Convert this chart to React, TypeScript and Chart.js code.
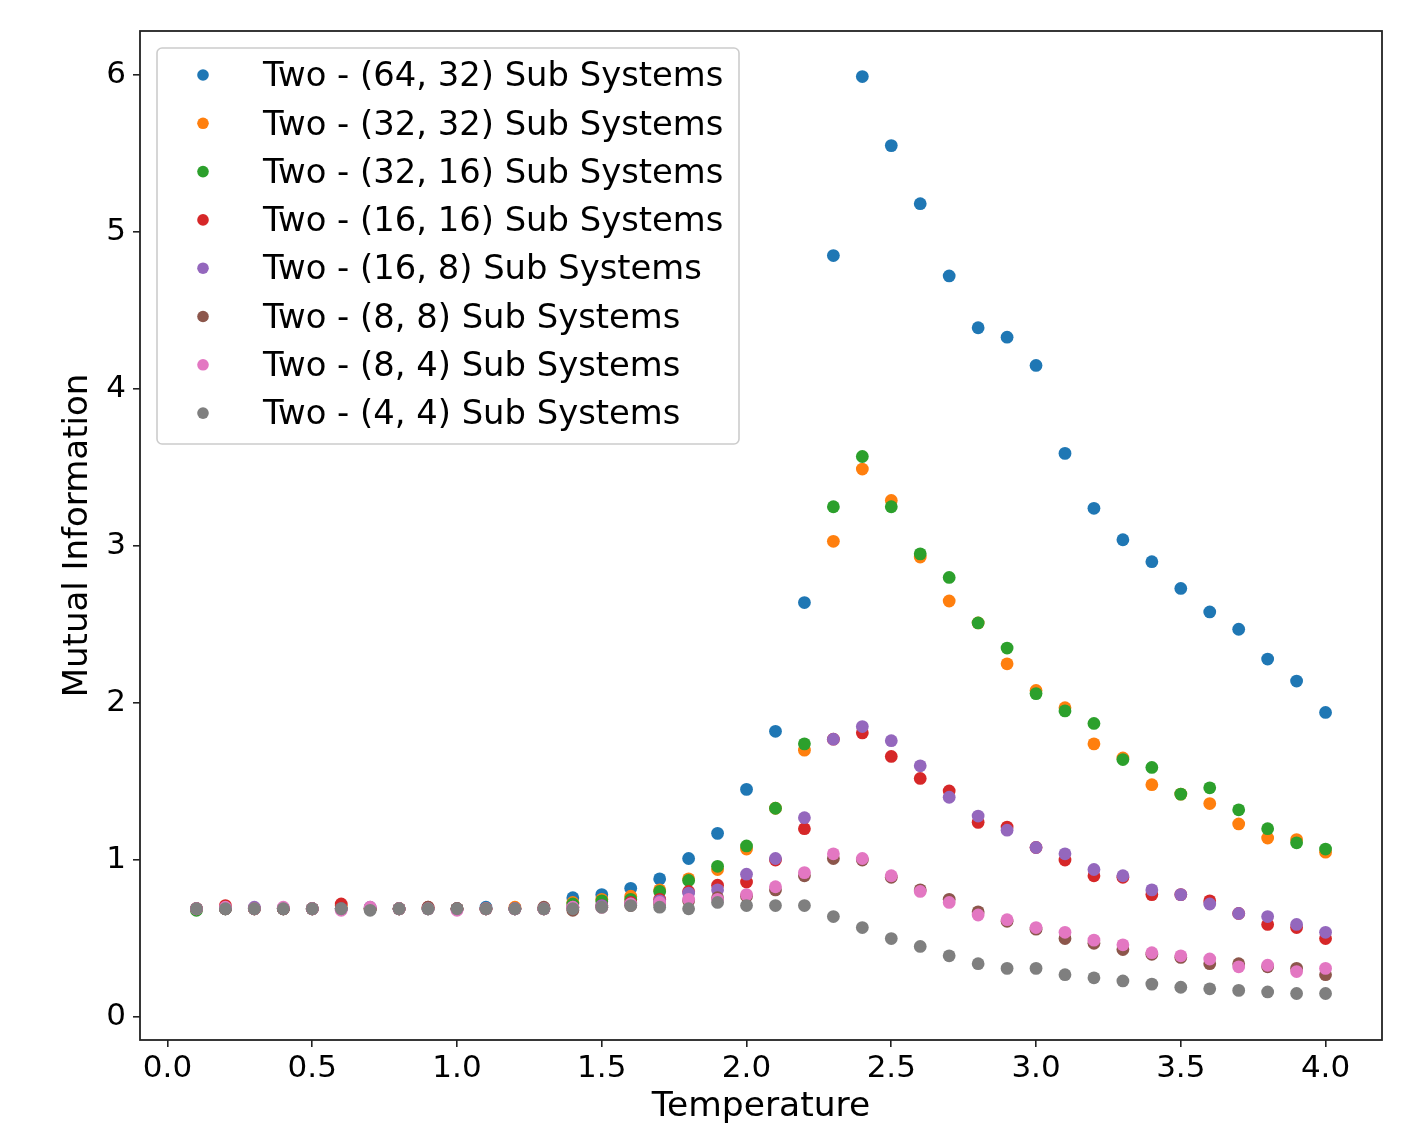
import React, { useEffect, useRef } from "react";
import { Chart, registerables } from "chart.js";

Chart.register(...registerables);

const temperatures = [
  0.1, 0.2, 0.3, 0.4, 0.5, 0.6, 0.7, 0.8, 0.9, 1.0,
  1.1, 1.2, 1.3, 1.4, 1.5, 1.6, 1.7, 1.8, 1.9, 2.0,
  2.1, 2.2, 2.3, 2.4, 2.5, 2.6, 2.7, 2.8, 2.9, 3.0,
  3.1, 3.2, 3.3, 3.4, 3.5, 3.6, 3.7, 3.8, 3.9, 4.0,
];

const seriesLabels = [
  "Two - (64, 32) Sub Systems",
  "Two - (32, 32) Sub Systems",
  "Two - (32, 16) Sub Systems",
  "Two - (16, 16) Sub Systems",
  "Two - (16, 8) Sub Systems",
  "Two - (8, 8) Sub Systems",
  "Two - (8, 4) Sub Systems",
  "Two - (4, 4) Sub Systems",
];

const seriesColors = [
  "#1f77b4", "#ff7f0e", "#2ca02c", "#d62728",
  "#9467bd", "#8c564b", "#e377c2", "#7f7f7f",
];

const mi64x32 = [
  0.69, 0.69, 0.69, 0.69, 0.69, 0.69, 0.69, 0.69, 0.69, 0.69,
  0.70, 0.69, 0.69, 0.76, 0.78, 0.82, 0.88, 1.01, 1.17, 1.45,
  1.82, 2.64, 4.85, 5.99, 5.55, 5.18, 4.72, 4.39, 4.33, 4.15,
  3.59, 3.24, 3.04, 2.90, 2.73, 2.58, 2.47, 2.28, 2.14, 1.94,
];
const mi32x32 = [
  0.69, 0.69, 0.69, 0.69, 0.69, 0.71, 0.69, 0.69, 0.69, 0.69,
  0.69, 0.70, 0.69, 0.73, 0.75, 0.77, 0.81, 0.88, 0.94, 1.07,
  1.33, 1.70, 3.03, 3.49, 3.29, 2.93, 2.65, 2.51, 2.25, 2.08,
  1.97, 1.74, 1.65, 1.48, 1.42, 1.36, 1.23, 1.14, 1.13, 1.05,
];
const mi32x16 = [
  0.68, 0.69, 0.69, 0.69, 0.69, 0.69, 0.69, 0.69, 0.69, 0.69,
  0.69, 0.69, 0.69, 0.72, 0.74, 0.75, 0.80, 0.87, 0.96, 1.09,
  1.33, 1.74, 3.25, 3.57, 3.25, 2.95, 2.80, 2.51, 2.35, 2.06,
  1.95, 1.87, 1.64, 1.59, 1.42, 1.46, 1.32, 1.20, 1.11, 1.07,
];
const mi16x16 = [
  0.69, 0.71, 0.69, 0.69, 0.69, 0.72, 0.69, 0.69, 0.70, 0.69,
  0.69, 0.69, 0.69, 0.70, 0.71, 0.73, 0.75, 0.80, 0.84, 0.86,
  1.00, 1.20, 1.77, 1.81, 1.66, 1.52, 1.44, 1.24, 1.21, 1.08,
  1.00, 0.90, 0.89, 0.78, 0.78, 0.74, 0.66, 0.59, 0.57, 0.50,
];
const mi16x8 = [
  0.69, 0.69, 0.70, 0.69, 0.69, 0.69, 0.70, 0.69, 0.69, 0.69,
  0.69, 0.69, 0.69, 0.70, 0.71, 0.72, 0.74, 0.79, 0.81, 0.91,
  1.01, 1.27, 1.77, 1.85, 1.76, 1.60, 1.40, 1.28, 1.19, 1.08,
  1.04, 0.94, 0.90, 0.81, 0.78, 0.72, 0.66, 0.64, 0.59, 0.54,
];
const mi8x8 = [
  0.69, 0.69, 0.69, 0.69, 0.69, 0.69, 0.69, 0.69, 0.70, 0.69,
  0.69, 0.69, 0.70, 0.68, 0.70, 0.71, 0.72, 0.74, 0.76, 0.77,
  0.81, 0.90, 1.01, 1.00, 0.89, 0.81, 0.75, 0.67, 0.61, 0.56,
  0.50, 0.47, 0.43, 0.40, 0.38, 0.34, 0.34, 0.32, 0.31, 0.27,
];
const mi8x4 = [
  0.69, 0.70, 0.69, 0.70, 0.69, 0.68, 0.70, 0.69, 0.69, 0.68,
  0.69, 0.69, 0.69, 0.70, 0.70, 0.72, 0.73, 0.75, 0.75, 0.78,
  0.83, 0.92, 1.04, 1.01, 0.90, 0.80, 0.73, 0.65, 0.62, 0.57,
  0.54, 0.49, 0.46, 0.41, 0.39, 0.37, 0.32, 0.33, 0.29, 0.31,
];
const mi4x4 = [
  0.69, 0.69, 0.69, 0.69, 0.69, 0.69, 0.68, 0.69, 0.69, 0.69,
  0.69, 0.69, 0.69, 0.69, 0.70, 0.71, 0.70, 0.69, 0.73, 0.71,
  0.71, 0.71, 0.64, 0.57, 0.50, 0.45, 0.39, 0.34, 0.31, 0.31,
  0.27, 0.25, 0.23, 0.21, 0.19, 0.18, 0.17, 0.16, 0.15, 0.15,
];

const seriesValues = [mi64x32, mi32x32, mi32x16, mi16x16, mi16x8, mi8x8, mi8x4, mi4x4];

const xTicks = [0, 0.5, 1.0, 1.5, 2.0, 2.5, 3.0, 3.5, 4.0];
const yTicks = [0, 1, 2, 3, 4, 5, 6];

const FONT = "'DejaVu Sans', sans-serif";

const framePlugin = {
  id: "frame",
  afterDatasetsDraw(chart: any) {
    const { ctx, chartArea } = chart;
    ctx.save();
    ctx.strokeStyle = "#222";
    ctx.lineWidth = 1.8;
    ctx.strokeRect(chartArea.left, chartArea.top, chartArea.right - chartArea.left, chartArea.bottom - chartArea.top);
    ctx.restore();
  },
};

const legendPlugin = {
  id: "mplLegend",
  afterDraw(chart: any) {
    const { ctx, chartArea } = chart;
    const boxX = chartArea.left + 17;
    const boxY = chartArea.top + 17;
    const boxW = 582;
    const boxH = 396;
    const r = 5;
    ctx.save();
    ctx.beginPath();
    ctx.moveTo(boxX + r, boxY);
    ctx.lineTo(boxX + boxW - r, boxY);
    ctx.arcTo(boxX + boxW, boxY, boxX + boxW, boxY + r, r);
    ctx.lineTo(boxX + boxW, boxY + boxH - r);
    ctx.arcTo(boxX + boxW, boxY + boxH, boxX + boxW - r, boxY + boxH, r);
    ctx.lineTo(boxX + r, boxY + boxH);
    ctx.arcTo(boxX, boxY + boxH, boxX, boxY + boxH - r, r);
    ctx.lineTo(boxX, boxY + r);
    ctx.arcTo(boxX, boxY, boxX + r, boxY, r);
    ctx.closePath();
    ctx.fillStyle = "rgba(255,255,255,0.8)";
    ctx.fill();
    ctx.strokeStyle = "#cccccc";
    ctx.lineWidth = 1.6;
    ctx.stroke();

    ctx.font = `33.8px ${FONT}`;
    ctx.textBaseline = "middle";
    ctx.textAlign = "left";
    chart.data.datasets.forEach((ds: any, i: number) => {
      const cy = boxY + 27 + i * 48.3;
      ctx.beginPath();
      ctx.arc(boxX + 46, cy, 5.8, 0, Math.PI * 2);
      ctx.fillStyle = ds.backgroundColor;
      ctx.fill();
      ctx.fillStyle = "#000";
      ctx.fillText(ds.label, boxX + 106, cy + 2.5);
    });
    ctx.restore();
  },
};

export default function App() {
  const canvasRef = useRef<HTMLCanvasElement | null>(null);

  useEffect(() => {
    const canvas = canvasRef.current;
    if (!canvas) return;

    const datasets = seriesValues.map((vals, si) => ({
      label: seriesLabels[si],
      data: temperatures.map((t, i) => ({ x: t, y: vals[i] })),
      backgroundColor: seriesColors[si],
      borderColor: seriesColors[si],
      pointRadius: 6.4,
      pointHoverRadius: 6.4,
      pointBorderWidth: 0,
      showLine: false,
      order: seriesValues.length - si,
    }));

    const chart = new Chart(canvas, {
      type: "scatter",
      data: { datasets },
      options: {
        responsive: false,
        animation: false,
        events: [],
        layout: { padding: { top: 31, right: 29, left: 0, bottom: 0 } },
        plugins: {
          legend: { display: false },
          tooltip: { enabled: false },
        },
        scales: {
          x: {
            type: "linear",
            min: -0.095,
            max: 4.195,
            afterFit: (scale: any) => { scale.height = 84; },
            afterBuildTicks: (scale: any) => { scale.ticks = xTicks.map((v) => ({ value: v })); },
            ticks: {
              color: "#000",
              font: { family: FONT, size: 31 },
              padding: 3,
              maxRotation: 0,
              autoSkip: false,
              callback: (v: any) => Number(v).toFixed(1),
            },
            grid: {
              display: true,
              drawOnChartArea: false,
              drawTicks: true,
              tickLength: 7,
              tickColor: "#222",
              lineWidth: 1.6,
            },
            border: { display: false },
            title: {
              display: true,
              text: "Temperature",
              color: "#000",
              font: { family: FONT, size: 34.5 },
              padding: { top: 0, bottom: -4 },
            },
          },
          y: {
            type: "linear",
            min: -0.146,
            max: 6.28,
            afterFit: (scale: any) => { scale.width = 140; },
            afterBuildTicks: (scale: any) => { scale.ticks = yTicks.map((v) => ({ value: v })); },
            ticks: {
              color: "#000",
              font: { family: FONT, size: 31 },
              padding: 7,
              autoSkip: false,
              callback: (v: any) => String(v),
            },
            grid: {
              display: true,
              drawOnChartArea: false,
              drawTicks: true,
              tickLength: 7,
              tickColor: "#222",
              lineWidth: 1.6,
            },
            border: { display: false },
            title: {
              display: true,
              text: "Mutual Information",
              color: "#000",
              font: { family: FONT, size: 34 },
              padding: { top: 58, bottom: 0 },
            },
          },
        },
      },
      plugins: [framePlugin, legendPlugin],
    } as any);

    return () => chart.destroy();
  }, []);

  return (
    <div style={{ position: "absolute", left: 0, top: 0, width: 1411, height: 1124, background: "#fff" }}>
      <canvas ref={canvasRef} width={1411} height={1124} style={{ width: 1411, height: 1124, display: "block" }} />
    </div>
  );
}
